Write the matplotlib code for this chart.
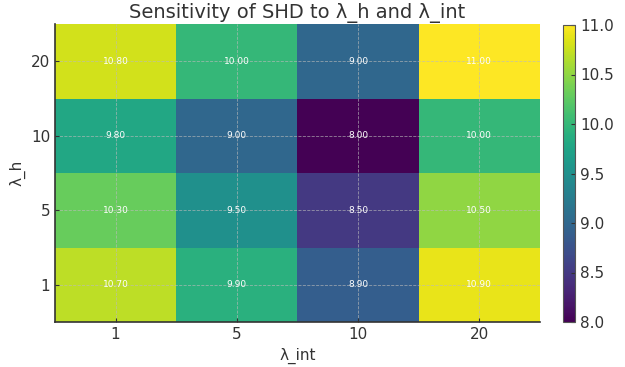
import numpy as np
import matplotlib
matplotlib.use('Agg')
import matplotlib.pyplot as plt

# data
lambda_int = ['1', '5', '10', '20']
lambda_h = ['1', '5', '10', '20']
shd = np.array([
    [10.70, 9.90, 8.90, 10.90],   # lambda_h = 1
    [10.30, 9.50, 8.50, 10.50],   # lambda_h = 5
    [9.80, 9.00, 8.00, 10.00],    # lambda_h = 10
    [10.80, 10.00, 9.00, 11.00],  # lambda_h = 20
])

text_col = '#333333'
plt.rcParams['text.color'] = text_col
plt.rcParams['axes.labelcolor'] = text_col
plt.rcParams['xtick.color'] = text_col
plt.rcParams['ytick.color'] = text_col

fig = plt.figure(figsize=(6.25, 3.67), dpi=100)
ax = fig.add_axes([55 / 625, 45 / 367, 485 / 625, 298 / 367])
cax = fig.add_axes([563 / 625, 45 / 367, 12 / 625, 297 / 367])

im = ax.imshow(shd, cmap='viridis', origin='lower', aspect='auto',
               vmin=8.0, vmax=11.0)

for i in range(len(lambda_h)):
    for j in range(len(lambda_int)):
        ax.text(j, i, f'{shd[i, j]:.2f}', ha='center', va='center',
                color='white', fontsize=6.5)

ax.set_xticks(range(len(lambda_int)))
ax.set_xticklabels(lambda_int, fontsize=11)
ax.set_yticks(range(len(lambda_h)))
ax.set_yticklabels(lambda_h, fontsize=11)
ax.set_xlabel('λ_int', fontsize=11)
ax.set_ylabel('λ_h', fontsize=11)
ax.set_title('Sensitivity of SHD to λ_h and λ_int', fontsize=14, pad=4)
ax.tick_params(direction='in', length=3)
ax.grid(True, color='#bbbbbb', linestyle='--', linewidth=0.6, alpha=0.7)
for side in ['top', 'right']:
    ax.spines[side].set_visible(False)
for side in ['left', 'bottom']:
    ax.spines[side].set_color('#333333')
    ax.spines[side].set_linewidth(1.2)

cb = fig.colorbar(im, cax=cax)
cb.set_ticks([8.0, 8.5, 9.0, 9.5, 10.0, 10.5, 11.0])
cb.ax.tick_params(direction='in', length=3, labelsize=11)
cb.outline.set_edgecolor('#555555')

fig.savefig('out.png', dpi=100)
